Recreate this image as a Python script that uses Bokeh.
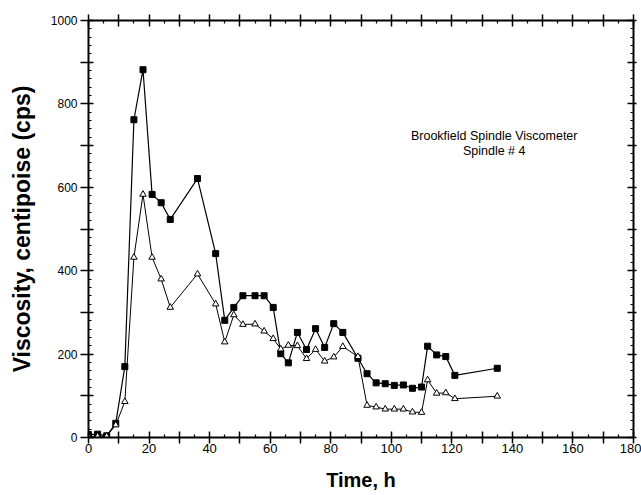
from bokeh.plotting import figure
from bokeh.models import LinearAxis, FixedTicker, Range1d, Label
from bokeh.embed import file_html
from bokeh.resources import INLINE

# Data
time_h = [0, 3, 6, 9, 12, 15, 18, 21, 24, 27, 36, 42, 45, 48, 51, 55, 58, 61,
          63.5, 66, 69, 72, 75, 78, 81, 84, 89, 92, 95, 98, 101, 104, 107, 110,
          112, 115, 118, 121, 135]
visc_sq = [7, 8, 4, 34, 170, 762, 882, 583, 563, 523, 621, 441, 281, 312, 340,
           340, 340, 312, 201, 179, 252, 211, 261, 216, 273, 252, 190, 153, 131,
           129, 125, 126, 118, 121, 219, 198, 194, 149, 166]
visc_tri = [3, 3, 3, 30, 86, 432, 583, 432, 380, 312, 392, 320, 229, 294, 271,
            272, 255, 237, 212, 221, 220, 189, 211, 183, 193, 218, 194, 77, 73,
            68, 68, 68, 61, 60, 138, 106, 107, 93, 99]

x_major = list(range(0, 181, 10))
x_minor = list(range(5, 180, 10))
x_labels = {t: (str(t) if t % 20 == 0 else "") for t in x_major}
y_major = list(range(0, 1001, 100))
y_minor = [v for v in range(0, 1001, 20) if v % 100 != 0]
y_labels = {v: (str(v) if v % 200 == 0 else "") for v in y_major}

annotation = ["Brookfield Spindle Viscometer", "Spindle # 4"]

FONT = "Liberation Sans"

p = figure(width=641, height=495, x_range=Range1d(0, 180), y_range=Range1d(0, 1000),
           output_backend="svg", toolbar_location=None,
           x_axis_location=None, y_axis_location=None,
           min_border_left=88, min_border_right=8, min_border_top=20,
           min_border_bottom=58, outline_line_color=None)
p.xgrid.visible = False
p.ygrid.visible = False


def style_axis(ax, tin, tout):
    ax.axis_line_width = 2
    ax.axis_line_color = "black"
    ax.major_tick_line_width = 1.5
    ax.minor_tick_line_width = 1.2
    ax.major_tick_in = tin
    ax.major_tick_out = tout
    ax.minor_tick_in = 3
    ax.minor_tick_out = 0
    ax.major_label_text_font = FONT
    ax.major_label_text_color = "black"
    ax.axis_label_text_font = FONT
    ax.axis_label_text_font_style = "bold"
    ax.axis_label_text_color = "black"


xb = LinearAxis(ticker=FixedTicker(ticks=x_major, minor_ticks=x_minor),
                axis_label="Time, h", major_label_overrides=x_labels)
style_axis(xb, 6, 6)
xb.major_label_text_font_size = "13px"
xb.major_label_standoff = 0
xb.axis_label_text_font_size = "20px"
xb.axis_label_standoff = 13
p.add_layout(xb, "below")

xt = LinearAxis(ticker=FixedTicker(ticks=x_major, minor_ticks=x_minor),
                major_label_overrides={t: "" for t in x_major})
style_axis(xt, 6, 6)
xt.major_label_text_font_size = "0px"
xt.major_label_standoff = 0
p.add_layout(xt, "above")

yl = LinearAxis(ticker=FixedTicker(ticks=y_major, minor_ticks=y_minor),
                axis_label="Viscosity, centipoise (cps)", major_label_overrides=y_labels)
style_axis(yl, 5, 8)
yl.major_label_text_font_size = "12px"
yl.major_label_standoff = 3
yl.axis_label_text_font_size = "23px"
yl.axis_label_standoff = 13
p.add_layout(yl, "left")

yr = LinearAxis(ticker=FixedTicker(ticks=y_major, minor_ticks=y_minor),
                major_label_overrides={v: "" for v in y_major})
style_axis(yr, 6, 3)
yr.major_label_text_font_size = "0px"
yr.major_label_standoff = 0
p.add_layout(yr, "right")

p.line(time_h, visc_sq, line_color="black", line_width=1.2)
p.scatter(time_h, visc_sq, marker="square", size=6, fill_color="black", line_color="black")
p.line(time_h, visc_tri, line_color="black", line_width=1.0)
p.scatter(time_h, visc_tri, marker="triangle", size=6.5, fill_color="white",
          line_color="black", line_width=1)

for txt, yv in zip(annotation, [724, 688]):
    p.add_layout(Label(x=134, y=yv, text=txt, text_align="center", text_baseline="middle",
                       text_font=FONT, text_font_size="12.5px", text_color="black"))

open("out.html", "w").write(file_html(p, INLINE))
